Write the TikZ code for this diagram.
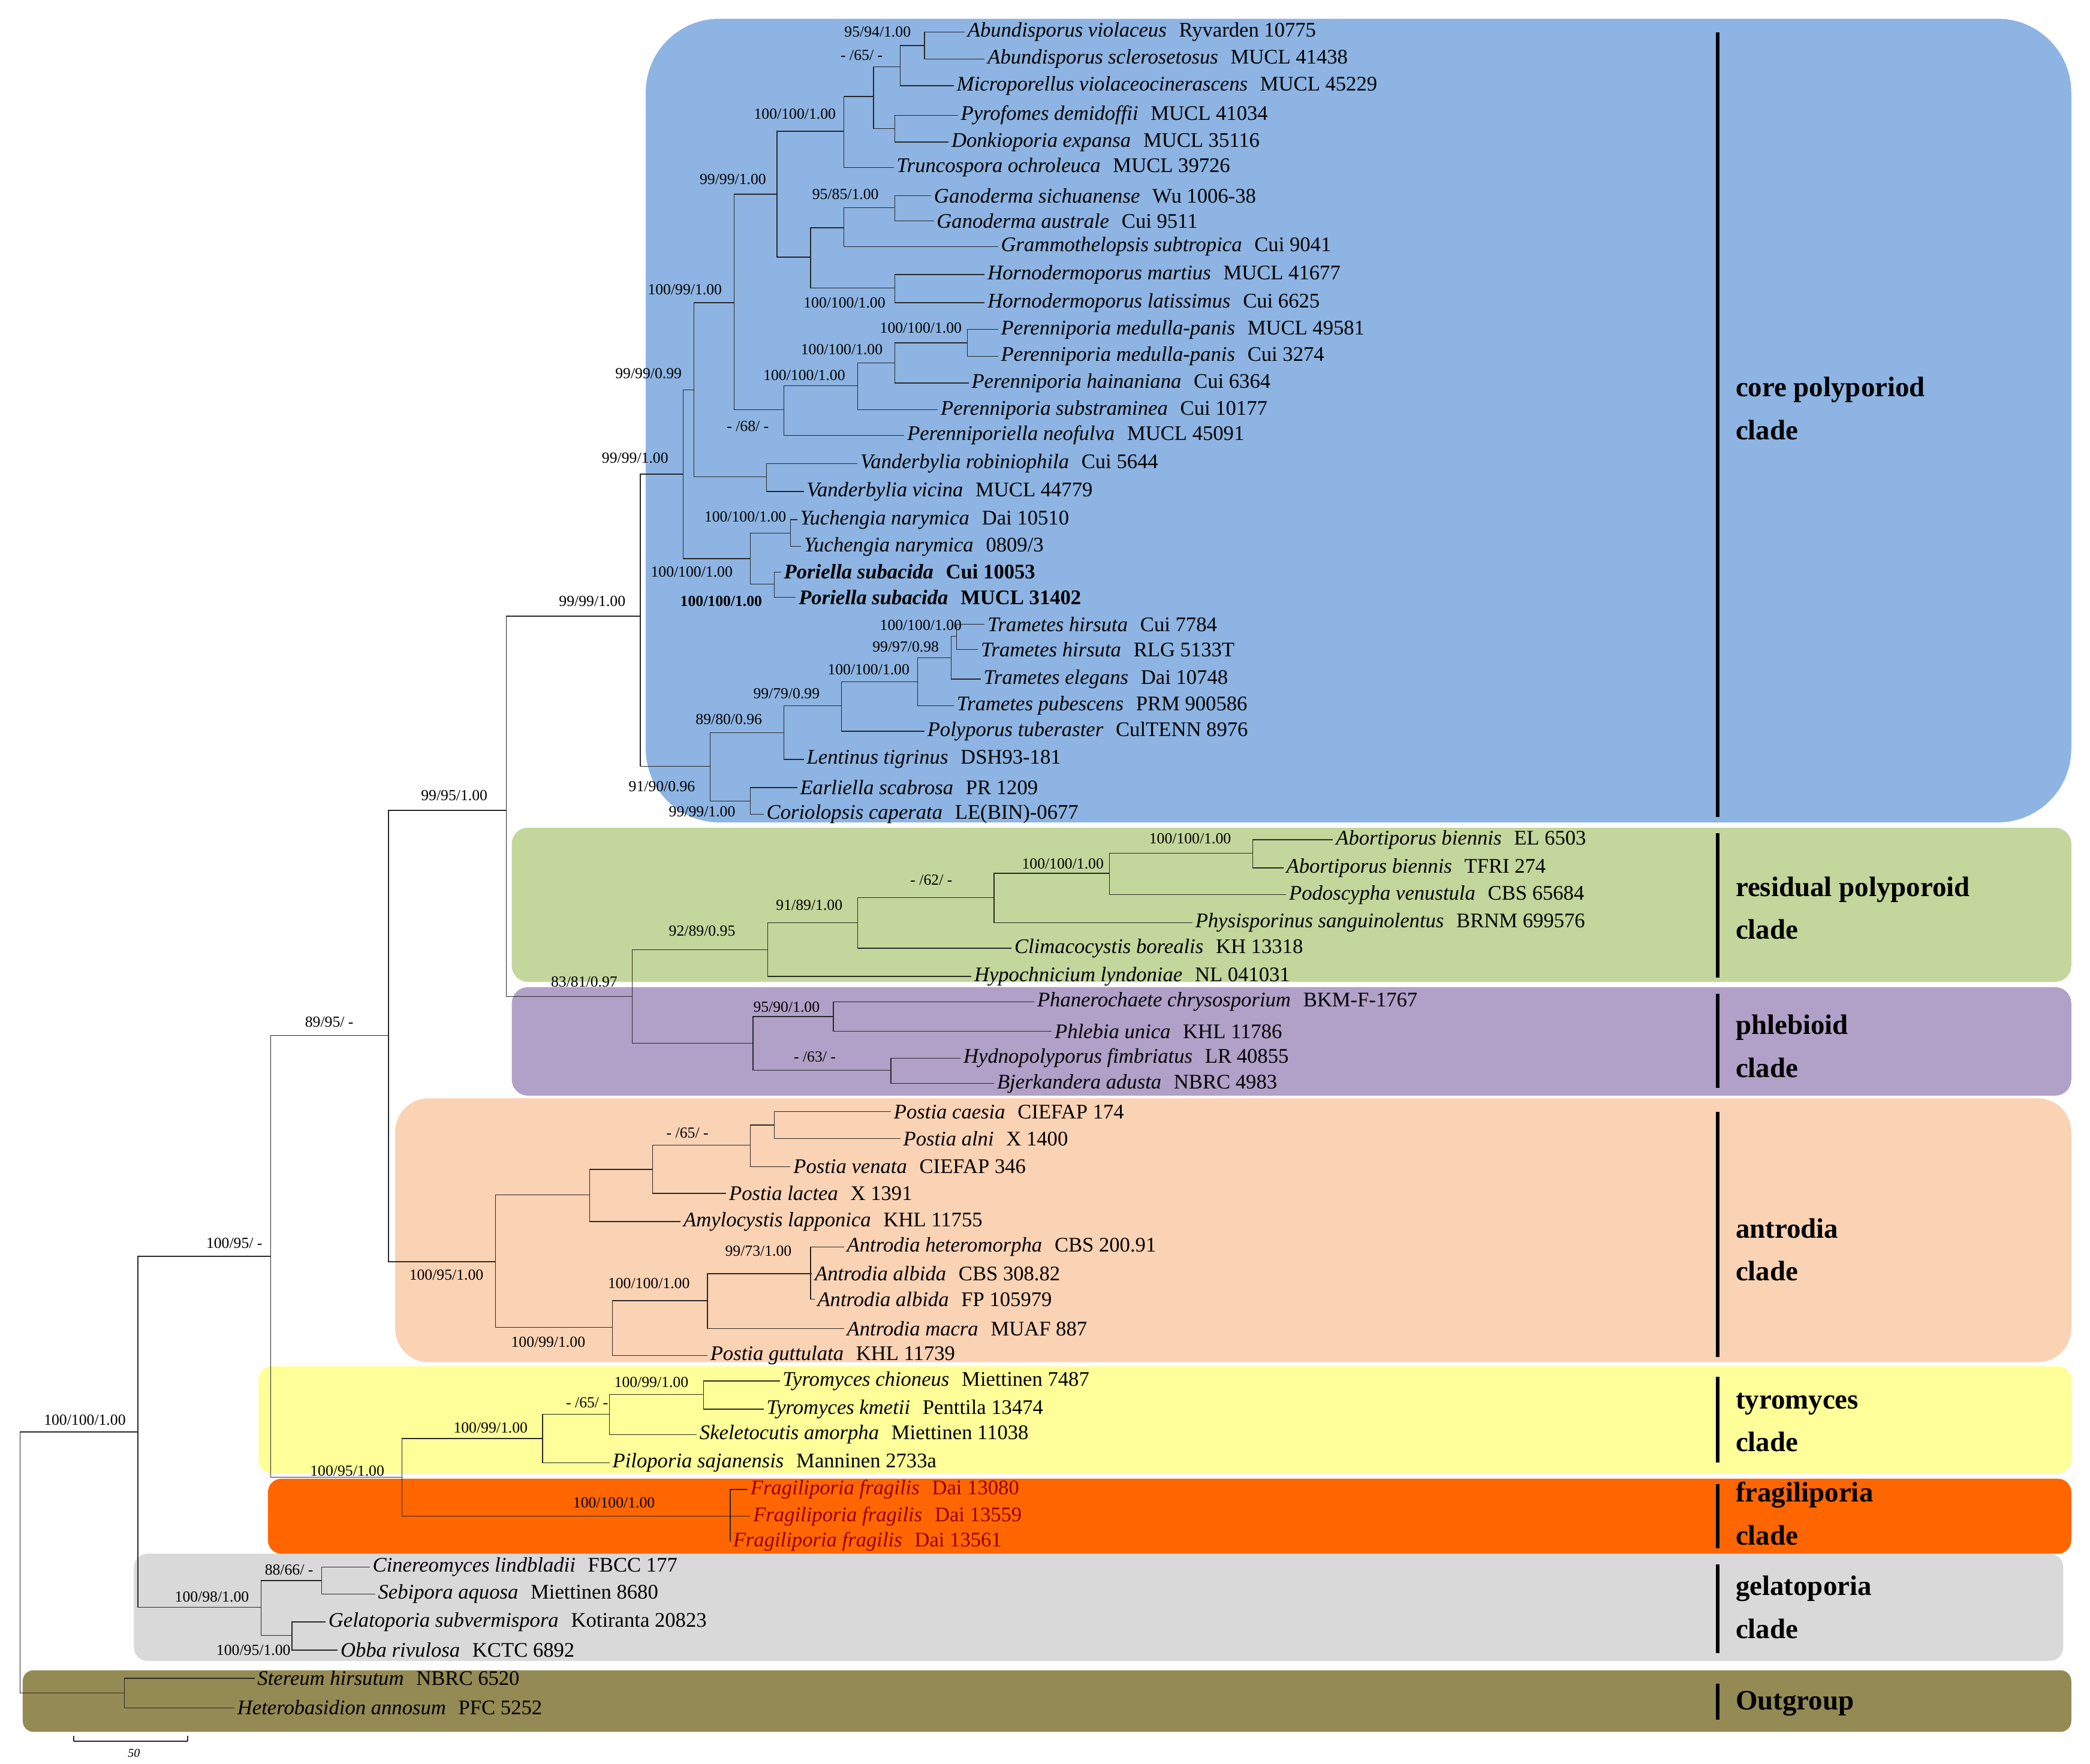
\documentclass[tikz,border=0pt]{standalone}
\usepackage{fontspec}
\setmainfont{Liberation Serif}
\begin{document}
\begin{tikzpicture}[x=1pt,y=-1pt,
 leaf/.style={anchor=west,inner sep=2pt,font=\fontsize{15.5}{17}\selectfont},
 sup/.style={anchor=east,inner sep=1pt,font=\fontsize{11.5}{13}\selectfont},
 cname/.style={anchor=west,align=left,font=\fontsize{21}{32}\selectfont\bfseries},
 br/.style={line width=0.6pt,draw={rgb,255:red,40;green,40;blue,40}},
 bar/.style={line width=2.5pt}]
\useasboundingbox (0,0) rectangle (1560,1317);
\newcommand\sv{\hspace{0.6em}}
\newcommand\lf[4]{\coordinate (#1) at (#2,#3);\node[leaf] (t#1) at (#1) {#4};}
\newcommand\nd[3]{\coordinate (#1) at (#2,#3);}
\newcommand\cl[2]{\foreach \c in {#2}{\draw[br] (#1) |- (\c);}}
\newcommand\supv[3]{\node[sup] at (#1,#2) {#3};}
% backgrounds
\fill[fill={rgb,255:red,141;green,180;blue,226},rounded corners=55pt] (482,14) rectangle (1546,614);
\fill[fill={rgb,255:red,195;green,214;blue,155},rounded corners=12pt] (382,618) rectangle (1546,733);
\fill[fill={rgb,255:red,177;green,160;blue,199},rounded corners=12pt] (382,737) rectangle (1546,818);
\fill[fill={rgb,255:red,250;green,210;blue,180},rounded corners=25pt] (295,820) rectangle (1546,1017);
\fill[fill={rgb,255:red,255;green,255;blue,153},rounded corners=10pt] (193,1020) rectangle (1546,1100);
\fill[fill={rgb,255:red,255;green,102;blue,0},rounded corners=10pt] (200,1104) rectangle (1546,1160);
\fill[fill={rgb,255:red,217;green,217;blue,217},rounded corners=10pt] (100,1160) rectangle (1540,1240);
\fill[fill={rgb,255:red,148;green,138;blue,84},rounded corners=8pt] (17,1247) rectangle (1546,1293);
% clade bars and names
\draw[bar] (1282,24) -- (1282,610);
\node[cname] (k1) at (1292,305) {core polyporiod\\clade};
\draw[bar] (1282,622) -- (1282,730);
\node[cname] (k2) at (1292,678) {residual polyporoid\\clade};
\draw[bar] (1282,742) -- (1282,812);
\node[cname] (k3) at (1292,781) {phlebioid\\clade};
\draw[bar] (1282,830) -- (1282,1013);
\node[cname] (k4) at (1292,933) {antrodia\\clade};
\draw[bar] (1282,1028) -- (1282,1092);
\node[cname] (k5) at (1292,1062) {tyromyces\\clade};
\draw[bar] (1282,1108) -- (1282,1156);
\node[cname] (k6) at (1292,1130) {fragiliporia\\clade};
\draw[bar] (1282,1168) -- (1282,1234);
\node[cname] (k7) at (1292,1200) {gelatoporia\\clade};
\draw[bar] (1282,1257) -- (1282,1284);
\node[cname] (k8) at (1292,1272) {Outgroup};
% leaves
\lf{L1}{720}{24}{\textit{Abundisporus violaceus}\sv Ryvarden 10775}
\lf{L2}{735}{44}{\textit{Abundisporus sclerosetosus}\sv MUCL 41438}
\lf{L3}{712}{64}{\textit{Microporellus violaceocinerascens}\sv MUCL 45229}
\lf{L4}{715}{86}{\textit{Pyrofomes demidoffii}\sv MUCL 41034}
\lf{L5}{708}{106}{\textit{Donkioporia expansa}\sv MUCL 35116}
\lf{L6}{667}{125}{\textit{Truncospora ochroleuca}\sv MUCL 39726}
\lf{L7}{695}{146}{\textit{Ganoderma sichuanense}\sv Wu 1006-38}
\lf{L8}{697}{165}{\textit{Ganoderma australe}\sv Cui 9511}
\lf{L9}{745}{184}{\textit{Grammothelopsis subtropica}\sv Cui 9041}
\lf{L10}{735}{205}{\textit{Hornodermoporus martius}\sv MUCL 41677}
\lf{L11}{735}{226}{\textit{Hornodermoporus latissimus}\sv Cui 6625}
\lf{L12}{745}{246}{\textit{Perenniporia medulla-panis}\sv MUCL 49581}
\lf{L13}{745}{266}{\textit{Perenniporia medulla-panis}\sv Cui 3274}
\lf{L14}{723}{286}{\textit{Perenniporia hainaniana}\sv Cui 6364}
\lf{L15}{700}{306}{\textit{Perenniporia substraminea}\sv Cui 10177}
\lf{L16}{675}{325}{\textit{Perenniporiella neofulva}\sv MUCL 45091}
\lf{L17}{640}{346}{\textit{Vanderbylia robiniophila}\sv Cui 5644}
\lf{L18}{600}{367}{\textit{Vanderbylia vicina}\sv MUCL 44779}
\lf{L19}{595}{388}{\textit{Yuchengia narymica}\sv Dai 10510}
\lf{L20}{598}{408}{\textit{Yuchengia narymica}\sv 0809/3}
\lf{L21}{583}{427}{\textbf{\textit{Poriella subacida}\sv Cui 10053}}
\lf{L22}{594}{446}{\textbf{\textit{Poriella subacida}\sv MUCL 31402}}
\lf{L23}{735}{466}{\textit{Trametes hirsuta}\sv Cui 7784}
\lf{L24}{730}{485}{\textit{Trametes hirsuta}\sv RLG 5133T}
\lf{L25}{732}{507}{\textit{Trametes elegans}\sv Dai 10748}
\lf{L26}{712}{527}{\textit{Trametes pubescens}\sv PRM 900586}
\lf{L27}{690}{546}{\textit{Polyporus tuberaster}\sv CulTENN 8976}
\lf{L28}{600}{567}{\textit{Lentinus tigrinus}\sv DSH93-181}
\lf{L29}{595}{588}{\textit{Earliella scabrosa}\sv PR 1209}
\lf{L30}{570}{608}{\textit{Coriolopsis caperata}\sv LE(BIN)-0677}
\lf{L31}{995}{627}{\textit{Abortiporus biennis}\sv EL 6503}
\lf{L32}{958}{648}{\textit{Abortiporus biennis}\sv TFRI 274}
\lf{L33}{960}{668}{\textit{Podoscypha venustula}\sv CBS 65684}
\lf{L34}{890}{689}{\textit{Physisporinus sanguinolentus}\sv BRNM 699576}
\lf{L35}{755}{708}{\textit{Climacocystis borealis}\sv KH 13318}
\lf{L36}{725}{729}{\textit{Hypochnicium lyndoniae}\sv NL 041031}
\lf{L37}{772}{748}{\textit{Phanerochaete chrysosporium}\sv BKM-F-1767}
\lf{L38}{785}{770}{\textit{Phlebia unica}\sv KHL 11786}
\lf{L39}{717}{790}{\textit{Hydnopolyporus fimbriatus}\sv LR 40855}
\lf{L40}{742}{809}{\textit{Bjerkandera adusta}\sv NBRC 4983}
\lf{L41}{665}{830}{\textit{Postia caesia}\sv CIEFAP 174}
\lf{L42}{672}{850}{\textit{Postia alni}\sv X 1400}
\lf{L43}{590}{871}{\textit{Postia venata}\sv CIEFAP 346}
\lf{L44}{542}{891}{\textit{Postia lactea}\sv X 1391}
\lf{L45}{508}{912}{\textit{Amylocystis lapponica}\sv KHL 11755}
\lf{L46}{630}{931}{\textit{Antrodia heteromorpha}\sv CBS 200.91}
\lf{L47}{606}{951}{\textit{Antrodia albida}\sv CBS 308.82}
\lf{L48}{608}{970}{\textit{Antrodia albida}\sv FP 105979}
\lf{L49}{630}{992}{\textit{Antrodia macra}\sv MUAF 887}
\lf{L50}{528}{1012}{\textit{Postia guttulata}\sv KHL 11739}
\lf{L51}{582}{1031}{\textit{Tyromyces chioneus}\sv Miettinen 7487}
\lf{L52}{570}{1052}{\textit{Tyromyces kmetii}\sv Penttila 13474}
\lf{L53}{520}{1071}{\textit{Skeletocutis amorpha}\sv Miettinen 11038}
\lf{L54}{455}{1092}{\textit{Piloporia sajanensis}\sv Manninen 2733a}
\begin{scope}[every node/.append style={text={rgb,255:red,150;green,0;blue,0}}]
\lf{L55}{558}{1112}{\textit{Fragiliporia fragilis}\sv Dai 13080}
\lf{L56}{560}{1132}{\textit{Fragiliporia fragilis}\sv Dai 13559}
\lf{L57}{545}{1151}{\textit{Fragiliporia fragilis}\sv Dai 13561}
\end{scope}
\lf{L58}{276}{1170}{\textit{Cinereomyces lindbladii}\sv FBCC 177}
\lf{L59}{280}{1190}{\textit{Sebipora aquosa}\sv Miettinen 8680}
\lf{L60}{243}{1211}{\textit{Gelatoporia subvermispora}\sv Kotiranta 20823}
\lf{L61}{252}{1232}{\textit{Obba rivulosa}\sv KCTC 6892}
\lf{L62}{190}{1253}{\textit{Stereum hirsutum}\sv NBRC 6520}
\lf{L63}{175}{1275}{\textit{Heterobasidion annosum}\sv PFC 5252}
% internal nodes
\nd{a1}{690}{34}\cl{a1}{L1,L2}
\nd{a2}{672}{50}\cl{a2}{a1,L3}
\nd{a3}{668}{96}\cl{a3}{L4,L5}
\nd{a4}{652}{72}\cl{a4}{a2,a3}
\nd{a5}{630}{98}\cl{a5}{a4,L6}
\nd{g1}{668}{155}\cl{g1}{L7,L8}
\nd{g2}{630}{170}\cl{g2}{g1,L9}
\nd{h1}{668}{215}\cl{h1}{L10,L11}
\nd{gh}{605}{192}\cl{gh}{g2,h1}
\nd{c1}{580}{145}\cl{c1}{a5,gh}
\nd{p1}{722}{256}\cl{p1}{L12,L13}
\nd{p2}{668}{271}\cl{p2}{p1,L14}
\nd{p3}{640}{288}\cl{p3}{p2,L15}
\nd{p4}{585}{306}\cl{p4}{p3,L16}
\nd{c2}{548}{226}\cl{c2}{c1,p4}
\nd{v1}{572}{356}\cl{v1}{L17,L18}
\nd{c3}{518}{291}\cl{c3}{c2,v1}
\nd{y1}{590}{398}\cl{y1}{L19,L20}
\nd{y2}{578}{436}\cl{y2}{L21,L22}
\nd{y3}{560}{417}\cl{y3}{y1,y2}
\nd{c4}{510}{354}\cl{c4}{c3,y3}
\nd{t1}{714}{475}\cl{t1}{L23,L24}
\nd{t2}{710}{491}\cl{t2}{t1,L25}
\nd{t3}{685}{509}\cl{t3}{t2,L26}
\nd{t4}{628}{527}\cl{t4}{t3,L27}
\nd{t5}{585}{547}\cl{t5}{t4,L28}
\nd{e1}{560}{598}\cl{e1}{L29,L30}
\nd{t6}{530}{572}\cl{t6}{t5,e1}
\nd{core}{478}{460}\cl{core}{c4,t6}
\nd{r1}{935}{637}\cl{r1}{L31,L32}
\nd{r2}{828}{652}\cl{r2}{r1,L33}
\nd{r3}{742}{670}\cl{r3}{r2,L34}
\nd{r4}{640}{689}\cl{r4}{r3,L35}
\nd{r5}{573}{709}\cl{r5}{r4,L36}
\nd{ph1}{622}{759}\cl{ph1}{L37,L38}
\nd{ph2}{665}{799}\cl{ph2}{L39,L40}
\nd{ph3}{562}{779}\cl{ph3}{ph1,ph2}
\nd{rp}{472}{744}\cl{rp}{r5,ph3}
\nd{cr}{378}{605}\cl{cr}{core,rp}
\nd{an1}{578}{840}\cl{an1}{L41,L42}
\nd{an2}{560}{855}\cl{an2}{an1,L43}
\nd{an3}{487}{873}\cl{an3}{an2,L44}
\nd{an4}{440}{892}\cl{an4}{an3,L45}
\nd{ah1}{605}{951}\cl{ah1}{L46,L47,L48}
\nd{ah2}{528}{971}\cl{ah2}{ah1,L49}
\nd{ah3}{457}{991}\cl{ah3}{ah2,L50}
\nd{an5}{370}{942}\cl{an5}{an4,ah3}
\nd{n290}{290}{773}\cl{n290}{cr,an5}
\nd{ty1}{525}{1041}\cl{ty1}{L51,L52}
\nd{ty2}{455}{1056}\cl{ty2}{ty1,L53}
\nd{ty3}{405}{1074}\cl{ty3}{ty2,L54}
\nd{fr}{545}{1132}\cl{fr}{L55,L56,L57}
\nd{tf}{300}{1103}\cl{tf}{ty3,fr}
\nd{n202}{202}{938}\cl{n202}{n290,tf}
\nd{ge1}{240}{1180}\cl{ge1}{L58,L59}
\nd{ge2}{218}{1221}\cl{ge2}{L60,L61}
\nd{ge3}{195}{1200}\cl{ge3}{ge1,ge2}
\nd{ing}{103}{1069}\cl{ing}{n202,ge3}
\nd{og}{93}{1264}\cl{og}{L62,L63}
\nd{root}{15}{1166}\cl{root}{ing,og}
% support values
\supv{681}{24}{95/94/1.00}
\supv{660}{41}{- /65/ -}
\supv{625}{85}{100/100/1.00}
\supv{573}{134}{99/99/1.00}
\supv{657}{145}{95/85/1.00}
\supv{662}{226}{100/100/1.00}
\supv{719}{245}{100/100/1.00}
\supv{660}{261}{100/100/1.00}
\supv{632}{280}{100/100/1.00}
\supv{575}{318}{- /68/ -}
\supv{540}{216}{100/99/1.00}
\supv{510}{279}{99/99/0.99}
\supv{500}{342}{99/99/1.00}
\supv{588}{386}{100/100/1.00}
\supv{548}{427}{100/100/1.00}
\node[sup,font=\fontsize{11.5}{13}\selectfont\bfseries] at (570,449) {100/100/1.00};
\supv{468}{449}{99/99/1.00}
\supv{719}{467}{100/100/1.00}
\supv{702}{483}{99/97/0.98}
\supv{680}{500}{100/100/1.00}
\supv{613}{518}{99/79/0.99}
\supv{570}{537}{89/80/0.96}
\supv{520}{587}{91/90/0.96}
\supv{550}{606}{99/99/1.00}
\supv{920}{626}{100/100/1.00}
\supv{825}{645}{100/100/1.00}
\supv{712}{657}{- /62/ -}
\supv{630}{676}{91/89/1.00}
\supv{550}{695}{92/89/0.95}
\supv{613}{752}{95/90/1.00}
\supv{625}{789}{- /63/ -}
\supv{462}{733}{83/81/0.97}
\supv{365}{594}{99/95/1.00}
\supv{530}{846}{- /65/ -}
\supv{592}{934}{99/73/1.00}
\supv{516}{958}{100/100/1.00}
\supv{438}{1002}{100/99/1.00}
\supv{362}{952}{100/95/1.00}
\supv{265}{763}{89/95/ -}
\supv{515}{1032}{100/99/1.00}
\supv{455}{1047}{- /65/ -}
\supv{395}{1066}{100/99/1.00}
\supv{490}{1122}{100/100/1.00}
\supv{288}{1098}{100/95/1.00}
\supv{197}{928}{100/95/ -}
\supv{235}{1172}{88/66/ -}
\supv{218}{1232}{100/95/1.00}
\supv{187}{1192}{100/98/1.00}
\supv{95}{1060}{100/100/1.00}
% scale bar
\coordinate (s1) at (55,1300);\coordinate (s2) at (140,1300);
\draw[br] (s1) -- (s2);
\draw[br] (55,1296) -- (s1) (140,1296) -- (s2);
\node[font=\fontsize{9}{10}\selectfont\itshape] (sl) at (100,1309) {50};
\end{tikzpicture}
\end{document}
